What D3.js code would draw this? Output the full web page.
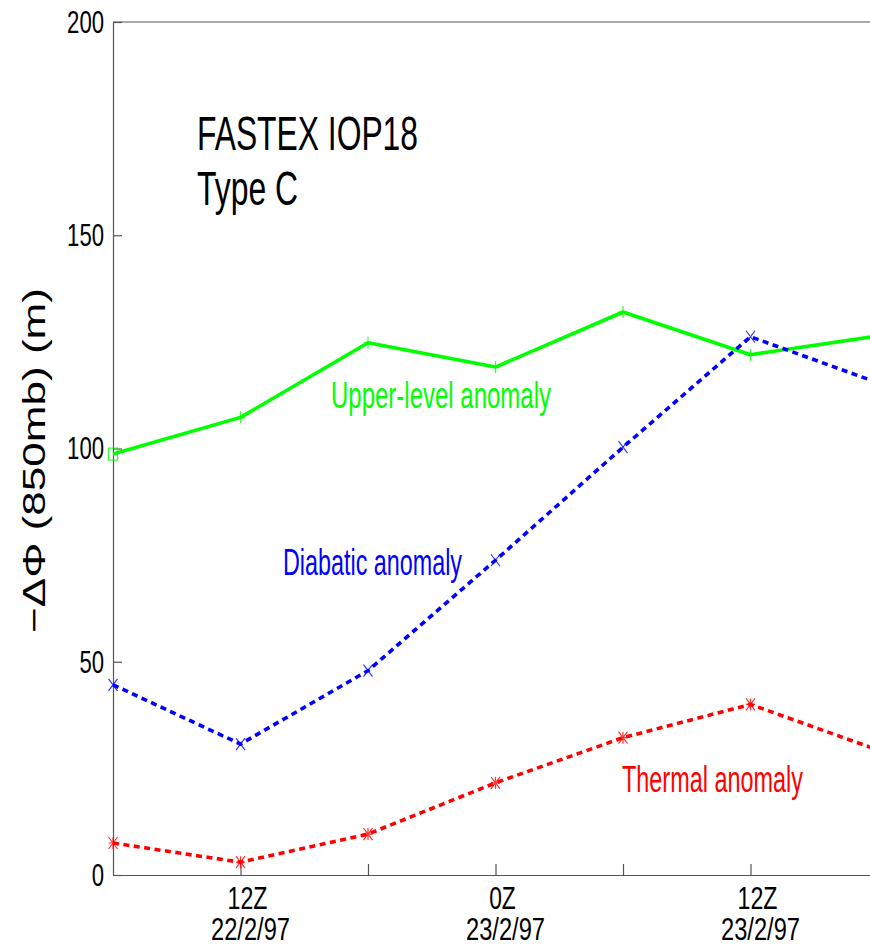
<!DOCTYPE html>
<html>
<head>
<meta charset="utf-8">
<script src="https://cdn.jsdelivr.net/npm/d3@7"></script>
<style>
  html, body { margin: 0; padding: 0; background: #fff; }
  svg { display: block; }
  text { font-family: "Liberation Sans", Arial, Helvetica, sans-serif; }
</style>
</head>
<body>
<div id="chart"></div>
<script>
// ---- data ----
const times = [6, 12, 18, 24, 30, 36, 42]; // hours since 0Z 22/2/97
const upperLevel = [98.7, 107.3, 124.8, 119.1, 132.0, 122.0, 126.4];
const diabatic = [44.6, 30.7, 47.9, 73.8, 100.3, 126.2, 115.4];
const thermal = [7.5, 3.0, 9.6, 21.6, 32.2, 40.0, 29.3];
const yTicks = [0, 50, 100, 150, 200];
const xTickTimes = [12, 18, 24, 30, 36];
const xLabelTimes = [12, 24, 36];
const xLabelHours = ["12Z", "0Z", "12Z"];
const xLabelDates = ["22/2/97", "23/2/97", "23/2/97"];
const seriesNames = ["Upper-level anomaly", "Diabatic anomaly", "Thermal anomaly"];
const titleLines = ["FASTEX IOP18", "Type C"];
const yLabel = "\u2212\u0394\u03A6 (850mb) (m)";

// ---- layout ----
const W = 870, H = 947;
const mLeft = 113, mRight = 878, mTop = 22, mBottom = 875;
const svg = d3.select("#chart").append("svg").attr("width", W).attr("height", H);

const x = d3.scaleLinear().domain([6, 42]).range([mLeft, mRight]);
const y = d3.scaleLinear().domain([0, 200]).range([mBottom, mTop]);

const axisColor = "#555";

// frame top line
svg.append("line").attr("x1", mLeft).attr("x2", mRight).attr("y1", y(200)).attr("y2", y(200))
  .attr("stroke", axisColor).attr("stroke-width", 1.2);

// y axis
const gy = svg.append("g").attr("transform", `translate(${mLeft},0)`)
  .call(d3.axisLeft(y).tickValues(yTicks).tickSizeInner(-9).tickSizeOuter(0).tickPadding(9));
gy.select(".domain").attr("stroke", axisColor).attr("stroke-width", 1.2);
gy.selectAll(".tick line").attr("stroke", axisColor).attr("stroke-width", 1.2);
gy.selectAll(".tick text")
  .attr("font-size", 32).attr("fill", "#000")
  .attr("font-family", "Liberation Sans, Arial, sans-serif")
  .each(function(d) {
    const s = String(d);
    d3.select(this).attr("textLength", s.length * 12.3).attr("lengthAdjust", "spacingAndGlyphs");
  });

// x axis
const gx = svg.append("g").attr("transform", `translate(0,${mBottom})`)
  .call(d3.axisBottom(x).tickValues(xTickTimes).tickSizeInner(-11).tickSizeOuter(0).tickFormat(""));
gx.select(".domain").attr("stroke", axisColor).attr("stroke-width", 1.2);
gx.selectAll(".tick line").attr("stroke", axisColor).attr("stroke-width", 1.2);

// x labels (two lines in one text)
xLabelTimes.forEach((t, i) => {
  const txt = svg.append("text").attr("text-anchor", "middle").attr("fill", "#000");
  txt.append("tspan").attr("x", x(t) + 7).attr("y", 909).attr("font-size", 32)
    .attr("textLength", xLabelHours[i].length * 13.3).attr("lengthAdjust", "spacingAndGlyphs")
    .text(xLabelHours[i]);
  txt.append("tspan").attr("x", x(t) + 10).attr("y", 940).attr("font-size", 31)
    .attr("textLength", 79).attr("lengthAdjust", "spacingAndGlyphs")
    .text(xLabelDates[i]);
});

// y label
svg.append("text")
  .attr("transform", `translate(45,${(288 + 633) / 2}) rotate(-90)`)
  .attr("text-anchor", "middle").attr("font-size", 32).attr("fill", "#000")
  .attr("textLength", 345).attr("lengthAdjust", "spacingAndGlyphs")
  .text(yLabel);

// title
svg.append("text").attr("x", 197).attr("y", 150).attr("font-size", 48).attr("fill", "#000")
  .attr("textLength", 221).attr("lengthAdjust", "spacingAndGlyphs").text(titleLines[0]);
svg.append("text").attr("x", 197).attr("y", 205).attr("font-size", 48).attr("fill", "#000")
  .attr("textLength", 101).attr("lengthAdjust", "spacingAndGlyphs").text(titleLines[1]);

// lines
const line = d3.line().x((d, i) => x(times[i])).y(d => y(d));
const series = [
  { vals: upperLevel, color: "#00ff00", dash: null, marker: "plus" },
  { vals: diabatic, color: "#0000ff", dash: "6,4.5", marker: "x" },
  { vals: thermal, color: "#ff0000", dash: "6,4.5", marker: "star" }
];
series.forEach(s => {
  svg.append("path").datum(s.vals).attr("d", line)
    .attr("fill", "none").attr("stroke", s.color).attr("stroke-width", 3.6)
    .attr("stroke-linejoin", "round")
    .attr("stroke-dasharray", s.dash);
});

// markers
const mw = 4.5, mh = 6;
function markerPath(type, cx, cy) {
  if (type === "plus") return `M${cx - mw},${cy}H${cx + mw}M${cx},${cy - mh}V${cy + mh}`;
  if (type === "x") return `M${cx - mw},${cy - mh}L${cx + mw},${cy + mh}M${cx - mw},${cy + mh}L${cx + mw},${cy - mh}`;
  if (type === "star") return `M${cx - mw},${cy - mh}L${cx + mw},${cy + mh}M${cx - mw},${cy + mh}L${cx + mw},${cy - mh}M${cx - mw},${cy}H${cx + mw}M${cx},${cy - mh}V${cy + mh}`;
  if (type === "square") return `M${cx - mw},${cy - mh}H${cx + mw}V${cy + mh}H${cx - mw}Z`;
}
series.forEach(s => {
  svg.append("g").selectAll("path").data(s.vals).join("path")
    .attr("d", (d, i) => markerPath(s.marker === "plus" && i === 0 ? "square" : s.marker, x(times[i]), y(d)))
    .attr("fill", "none").attr("stroke", s.color).attr("stroke-width", 1.2).attr("opacity", 0.8);
});

// series labels
const labelSpecs = [
  { x: 331, y: 408, w: 220, color: "#00ff00" },
  { x: 283, y: 575, w: 179, color: "#0000ff" },
  { x: 622, y: 792, w: 181, color: "#ff0000" }
];
seriesNames.forEach((n, i) => {
  const L = labelSpecs[i];
  svg.append("text").attr("x", L.x).attr("y", L.y).attr("font-size", 36).attr("fill", L.color)
    .attr("textLength", L.w).attr("lengthAdjust", "spacingAndGlyphs").text(n);
});
</script>
</body>
</html>
